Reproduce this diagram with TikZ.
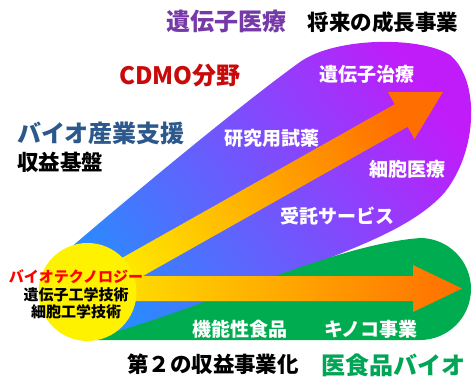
\documentclass[tikz,border=0pt]{standalone}
\usepackage{fontspec}
\newfontfamily\jp{Noto Sans CJK JP}
\definecolor{bluest}{RGB}{40,140,255}
\definecolor{purp}{RGB}{192,28,250}
\definecolor{grn}{RGB}{0,172,80}
\definecolor{yel}{RGB}{255,232,0}
\definecolor{org}{RGB}{255,110,0}
\definecolor{ttlpurple}{RGB}{118,58,168}
\definecolor{ttlred}{RGB}{200,10,10}
\definecolor{ttlblue}{RGB}{44,88,140}
\definecolor{ttlgreen}{RGB}{0,165,85}
\begin{document}
\begin{tikzpicture}[x=1pt,y=-1pt,
  hd/.style={font=\jp\bfseries\fontsize{#1}{#1}\selectfont, inner sep=0pt},
  hdb/.style={font=\jp\bfseries\fontsize{#1}{#1}\selectfont, inner sep=0pt},
  wl/.style={hdb=19, text=white},
  cl/.style={hdb=15, text=black}]
\useasboundingbox (0,0) rectangle (472,380);
% purple/blue region
\path[top color=bluest, bottom color=purp, shading angle=125]
  (62,255) .. controls (120,205) and (240,105) .. (300,62)
  .. controls (335,37) and (420,36) .. (450,55)
  .. controls (480,80) and (478,150) .. (445,192)
  .. controls (410,232) and (340,252) .. (280,278)
  -- (100,338) -- (50,320) -- cycle;
% green region
\fill[grn] (96,340) -- (100,336) .. controls (200,310) and (320,250) .. (410,239)
  -- (420,238) arc[start angle=-90, end angle=90, radius=51] -- cycle;
% diagonal arrow
\path[top color=yel, bottom color=org, shading angle=119]
  (81.6,280.7) -- (394.8,104.2) -- (387.9,92.0) -- (443,92) -- (414.5,139.0)
  -- (407.6,126.8) -- (94.4,303.3) -- cycle;
% horizontal arrow
\path[left color=yel, right color=org]
  (88,276) -- (413,276) -- (413,265) -- (462,288.5) -- (413,312) -- (413,301)
  -- (88,301) -- cycle;
% core circle
\node[circle, fill=yellow, minimum size=98pt, inner sep=0pt] (core) at (87.5,292) {};
% texts
\node[hd=24, text=ttlpurple] (gene) at (226,21) {遺伝子医療};
\node[hdb=21.5] (future) at (383,22) {将来の成長事業};
\node[hd=24, text=ttlred] (cdmo) at (180,76) {CDMO分野};
\node[hd=24, text=ttlblue] (bio) at (101,133) {バイオ産業支援};
\node[hdb=21.5] (base) at (60,162) {収益基盤};
\node[wl] (gt) at (367,74) {遺伝子治療};
\node[wl] (rr) at (272,138) {研究用試薬};
\node[wl] (cm) at (407,169) {細胞医療};
\node[wl] (ts) at (337,216) {受託サービス};
\node[hdb=15, text=red] (bt) at (76,277) {バイオテクノロジー};
\node[cl] (ge) at (76,295) {遺伝子工学技術};
\node[cl] (ce) at (76,312) {細胞工学技術};
\node[wl] (ff) at (240,329) {機能性食品};
\node[wl] (mb) at (371,329) {キノコ事業};
\node[hdb=21.5] (second) at (213,364) {第２の収益事業化};
\node[hd=24, text=ttlgreen] (food) at (393,365) {医食品バイオ};
\end{tikzpicture}
\end{document}
